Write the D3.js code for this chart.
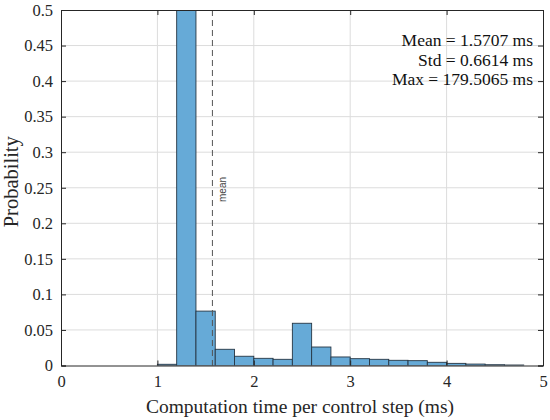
<!DOCTYPE html>
<html>
<head>
<meta charset="utf-8">
<script src="https://cdn.jsdelivr.net/npm/d3@7"></script>
<style>
  body { margin: 0; background: #fff; }
  svg text { font-family: "Liberation Serif", "Times New Roman", serif; }
  svg text.sans { font-family: "Liberation Sans", Arial, sans-serif; }
</style>
</head>
<body>
<svg id="chart" width="550" height="420"></svg>
<script>
// histogram bins (ms), bin width 0.2
const binEdges = [1.0, 1.2, 1.4, 1.6, 1.8, 2.0, 2.2, 2.4, 2.6, 2.8, 3.0, 3.2, 3.4, 3.6, 3.8, 4.0, 4.2, 4.4, 4.6, 4.8];
const binProb = [0.0017, 0.62, 0.0765, 0.0228, 0.013, 0.0101, 0.0087, 0.0594, 0.026, 0.012, 0.0096, 0.0087, 0.0073, 0.0068, 0.0045, 0.003, 0.002, 0.0011, 0.0007];
const xTicks = [0, 1, 2, 3, 4, 5];
const yTicks = [0, 0.05, 0.1, 0.15, 0.2, 0.25, 0.3, 0.35, 0.4, 0.45, 0.5];
const meanValue = 1.5707;
const statLines = ["Mean = 1.5707 ms", "Std = 0.6614 ms", "Max = 179.5065 ms"];

const chart = d3.select("#chart");
const plotLeft = 61, plotRight = 543, plotTop = 10, plotBottom = 365.5;

let x = d3.scaleLinear().domain([0, 5]).range([plotLeft, plotRight]);
let y = d3.scaleLinear().domain([0, 0.5]).range([plotBottom, plotTop]);

// grid
chart.append("g")
  .selectAll("line")
  .data(xTicks.slice(1, -1))
  .join("line")
    .attr("x1", d => x(d)).attr("x2", d => x(d))
    .attr("y1", plotTop).attr("y2", plotBottom)
    .attr("stroke", "#dcdcdc").attr("stroke-width", 1);
chart.append("g")
  .selectAll("line")
  .data(yTicks.slice(1, -1))
  .join("line")
    .attr("x1", plotLeft).attr("x2", plotRight)
    .attr("y1", d => y(d)).attr("y2", d => y(d))
    .attr("stroke", "#dcdcdc").attr("stroke-width", 1);

// bars
const bins = binProb.map((p, i) => ({ x0: binEdges[i], x1: binEdges[i + 1], p: p }));
chart.append("defs").append("clipPath").attr("id", "plotclip")
  .append("rect").attr("x", plotLeft).attr("y", plotTop)
  .attr("width", plotRight - plotLeft).attr("height", plotBottom - plotTop);

chart.append("g")
  .attr("clip-path", "url(#plotclip)")
  .selectAll("rect")
  .data(bins)
  .join("rect")
    .attr("x", d => x(d.x0))
    .attr("width", d => x(d.x1) - x(d.x0))
    .attr("y", d => y(d.p))
    .attr("height", d => plotBottom - y(d.p))
    .attr("fill", "rgb(102,170,215)")
    .attr("stroke", "#263644")
    .attr("stroke-width", 0.9);

// mean line
chart.append("line")
  .attr("x1", x(meanValue)).attr("x2", x(meanValue))
  .attr("y1", plotTop).attr("y2", plotBottom)
  .attr("stroke", "#555").attr("stroke-width", 1)
  .attr("stroke-dasharray", "6,4");
chart.append("text")
  .attr("class", "sans")
  .attr("transform", `translate(${x(meanValue) + 14},202) rotate(-90)`)
  .attr("font-size", 10)
  .attr("fill", "#444")
  .text("mean");

// axes with inward ticks on all sides
const axisColor = "#262626";
const xAxis = d3.axisBottom(x).tickValues(xTicks).tickSize(-5).tickPadding(10).tickFormat(d3.format("d"));
const yAxis = d3.axisLeft(y).tickValues(yTicks).tickSize(-5).tickPadding(8).tickFormat(d => String(d));

chart.append("g").attr("transform", `translate(0,${plotBottom})`).call(xAxis);
chart.append("g").attr("transform", `translate(${plotLeft},0)`).call(yAxis);
chart.append("g").attr("transform", `translate(0,${plotTop})`)
  .call(d3.axisTop(x).tickValues(xTicks).tickSize(-5).tickFormat(""));
chart.append("g").attr("transform", `translate(${plotRight},0)`)
  .call(d3.axisRight(y).tickValues(yTicks).tickSize(-5).tickFormat(""));

chart.selectAll(".domain").attr("stroke", axisColor).attr("stroke-width", 1);
chart.selectAll(".tick line").attr("stroke", axisColor);
chart.selectAll(".tick text")
  .style("font-family", "'Liberation Serif', 'Times New Roman', serif")
  .style("font-size", "16.5px")
  .attr("fill", "#262626");

// labels
chart.append("text")
  .attr("x", (plotLeft + plotRight) / 2 - 2).attr("y", 413)
  .attr("text-anchor", "middle")
  .style("font-size", "19.5px").attr("fill", "#262626")
  .text("Computation time per control step (ms)");
chart.append("text")
  .attr("transform", `translate(18,${(plotTop + plotBottom) / 2 - 6}) rotate(-90)`)
  .attr("text-anchor", "middle")
  .style("font-size", "20.5px").attr("fill", "#262626")
  .text("Probability");

// stats box text
chart.append("g")
  .selectAll("text")
  .data(statLines)
  .join("text")
    .attr("x", 533)
    .attr("y", (d, i) => 46 + i * 19.5)
    .attr("text-anchor", "end")
    .style("font-size", "17.5px")
    .attr("fill", "#111")
    .text(d => d);
</script>
</body>
</html>
